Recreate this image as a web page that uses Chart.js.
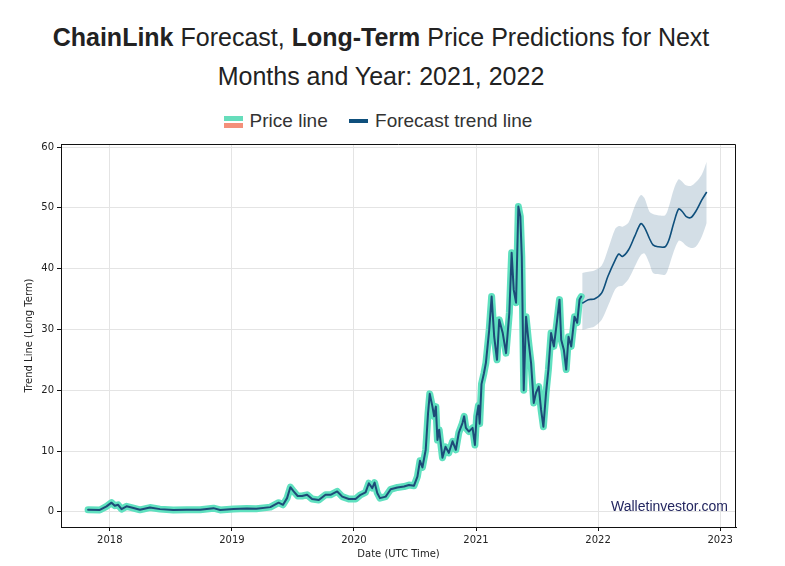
<!DOCTYPE html>
<html>
<head>
<meta charset="UTF-8">
<title>ChainLink Forecast</title>
<script src="https://cdn.jsdelivr.net/npm/chart.js"></script>
<style>
	body { margin: 0; background: #fff; font-family: "Liberation Sans", Arial, sans-serif; }
	#wrap { position: relative; width: 785px; height: 566px; overflow: hidden; }
	#title { position: absolute; left: 0; top: 18px; width: 762px; margin: 0; text-align: center;
		font-size: 25px; font-weight: normal; line-height: 39px; color: #222; }
	#title b { font-weight: bold; }
	#legend { position: absolute; left: 0; top: 110px; width: 756px; text-align: center;
		font-size: 19px; color: #333; white-space: nowrap; }
	.item { display: inline-block; margin: 0 8px; }
	.sw1 { display: inline-block; width: 19px; height: 12px; vertical-align: -1px; margin-right: 7px;
		background: linear-gradient(#66ddbb 0 45%, #fff 45% 58%, #f4907a 58% 100%); }
	.sw2 { display: inline-block; width: 19px; height: 4px; vertical-align: 4px; margin-right: 7px; background: #0e4f7c; }
	#box { position: absolute; left: 0; top: 130px; width: 785px; height: 436px; }
	#mark { position: absolute; left: 611px; top: 498px; font-size: 14px; color: #232660; }
</style>
</head>
<body>
<div id="wrap">
	<h1 id="title"><b>ChainLink</b> Forecast, <b>Long-Term</b> Price Predictions for Next<br>Months and Year: 2021, 2022</h1>
	<div id="legend">
		<span class="item"><span class="sw1"></span>Price line</span>
		<span class="item"><span class="sw2"></span>Forecast trend line</span>
	</div>
	<div id="box"><canvas id="myChart"></canvas></div>
	<div id="mark">Walletinvestor.com</div>
</div>
<script>
// price history (decimal year, USD)
var priceYears = [2017.822, 2017.918, 2017.973, 2018.014, 2018.041, 2018.068, 2018.096, 2018.137, 2018.178, 2018.247,
	2018.329, 2018.411, 2018.52, 2018.63, 2018.74, 2018.849, 2018.904, 2019.013, 2019.123, 2019.2,
	2019.315, 2019.383, 2019.419, 2019.452, 2019.479, 2019.506, 2019.539, 2019.575, 2019.616, 2019.657,
	2019.712, 2019.767, 2019.808, 2019.863, 2019.904, 2019.958, 2020.013, 2020.054, 2020.095, 2020.122,
	2020.15, 2020.169, 2020.191, 2020.213, 2020.26, 2020.301, 2020.356, 2020.41, 2020.451, 2020.492,
	2020.52, 2020.541, 2020.561, 2020.588, 2020.607, 2020.621, 2020.643, 2020.657, 2020.671, 2020.684,
	2020.698, 2020.725, 2020.75, 2020.777, 2020.808, 2020.835, 2020.859, 2020.889, 2020.903, 2020.917,
	2020.942, 2020.972, 2020.991, 2021.005, 2021.02, 2021.03, 2021.045, 2021.065, 2021.081, 2021.108,
	2021.128, 2021.149, 2021.172, 2021.19, 2021.219, 2021.246, 2021.273, 2021.292, 2021.309, 2021.328,
	2021.347, 2021.363, 2021.375, 2021.391, 2021.41, 2021.429, 2021.451, 2021.473, 2021.492, 2021.514,
	2021.533, 2021.552, 2021.574, 2021.593, 2021.615, 2021.638, 2021.662, 2021.684, 2021.698, 2021.72,
	2021.739, 2021.758, 2021.78, 2021.807, 2021.829, 2021.848, 2021.862];
var priceValues = [0.33, 0.3, 0.9, 1.5, 1.0, 1.15, 0.44, 0.9, 0.7, 0.33,
	0.7, 0.44, 0.3, 0.35, 0.35, 0.6, 0.3, 0.45, 0.55, 0.5,
	0.77, 1.5, 1.15, 2.25, 4.05, 3.35, 2.6, 2.6, 2.8, 2.1,
	1.95, 2.8, 2.8, 3.35, 2.5, 2.1, 2.1, 2.8, 3.2, 4.7,
	3.9, 4.8, 3.1, 2.25, 2.5, 3.7, 4.0, 4.15, 4.4, 4.3,
	5.8, 8.4, 7.3, 10.2, 16.2, 19.4, 17.3, 15.7, 17.3, 11.8,
	13.5, 8.9, 10.7, 9.7, 11.6, 10.2, 13, 14.6, 15.7, 13.8,
	13.2, 13.8, 11, 15.7, 17.5, 14.5, 21, 22.8, 24.5, 29.9,
	35.4, 28.8, 25, 31.6, 29.4, 26.1, 32.7, 42.6, 36.5, 34.4,
	50.2, 48.6, 42, 20, 32.1, 28.3, 24.5, 17.9, 19.6, 20.6,
	16.8, 14, 19.6, 23.4, 29.4, 27.2, 31.1, 34.9, 28.3, 26.6,
	23.4, 28.8, 27.2, 32.1, 31.1, 34.9, 35.4];

// forecast trend and its band
var forecastYears = [2021.87, 2021.92, 2021.97, 2022.03, 2022.08, 2022.14, 2022.17, 2022.2, 2022.25, 2022.3,
	2022.35, 2022.38, 2022.42, 2022.45, 2022.49, 2022.55, 2022.58, 2022.62, 2022.66, 2022.69,
	2022.72, 2022.76, 2022.8, 2022.85, 2022.89];
var trendValues = [34.3, 34.9, 35, 36, 38.7, 41.4, 42.4, 42, 43.1, 45.3,
	47.4, 46.8, 45, 43.9, 43.6, 43.6, 44.7, 47.5, 49.8, 49.4,
	48.6, 48.4, 49.4, 51.3, 52.6];
var upperValues = [39.3, 39.5, 39.7, 40.5, 43.1, 46.5, 47, 46.9, 47.6, 50.2,
	52.1, 51.6, 49.4, 49, 48.8, 48.8, 50.2, 53, 54.7, 54.3,
	53.7, 53.6, 54.2, 55.5, 57.6];
var lowerValues = [29.9, 30.2, 30.5, 31.6, 33.8, 36.6, 37.1, 37.2, 38.3, 40.3,
	42.2, 42.5, 40.9, 39.3, 39.1, 39, 40.3, 42.8, 44.6, 44.4,
	43.8, 43.4, 43.6, 45.3, 47.5];

var xTicks = [2018, 2019, 2020, 2021, 2022, 2023];
var yTicks = [0, 10, 20, 30, 40, 50, 60];

function pts(xs, ys) {
	return xs.map(function (x, i) { return { x: x, y: ys[i] }; });
}

// top and right edges of the frame (left/bottom are the axis borders)
var frame = {
	id: 'frame',
	afterDraw: function (c) {
		var a = c.chartArea, ctx = c.ctx;
		var l = Math.round(a.left), t = Math.round(a.top) + 0.5, r = Math.round(a.right) - 0.5, b = Math.round(a.bottom);
		ctx.save();
		ctx.strokeStyle = '#111';
		ctx.lineWidth = 1;
		ctx.beginPath();
		ctx.moveTo(l, t);
		ctx.lineTo(r, t);
		ctx.lineTo(r, b);
		ctx.stroke();
		ctx.restore();
	}
};

var tickFont = { family: 'DejaVu Sans', size: 10 };

var chart = new Chart(document.getElementById('myChart'), {
	type: 'line',
	data: {
		datasets: [
			{ data: pts(forecastYears, upperValues), borderColor: 'rgba(0,0,0,0)', borderWidth: 0,
				backgroundColor: 'rgba(120,155,180,0.33)', fill: '+1', tension: 0.3, order: 3 },
			{ data: pts(forecastYears, lowerValues), borderColor: 'rgba(0,0,0,0)', borderWidth: 0,
				fill: false, tension: 0.3, order: 3 },
			{ data: pts(priceYears, priceValues), borderColor: '#5fe0bf', borderWidth: 7,
				borderJoinStyle: 'round', borderCapStyle: 'round', tension: 0, order: 2 },
			{ data: pts(priceYears, priceValues), borderColor: '#1d4b78', borderWidth: 2,
				borderJoinStyle: 'round', borderCapStyle: 'round', tension: 0, order: 1 },
			{ data: pts(forecastYears, trendValues), borderColor: '#0e4f7c', borderWidth: 1.6,
				tension: 0.3, order: 0 }
		]
	},
	options: {
		responsive: true,
		maintainAspectRatio: false,
		animation: false,
		elements: { point: { radius: 0 } },
		layout: { padding: { top: 14, right: 49, left: 0, bottom: 0 } },
		plugins: { legend: { display: false }, tooltip: { enabled: false } },
		scales: {
			x: {
				type: 'linear', min: 2017.6, max: 2023.13,
				afterBuildTicks: function (s) { s.ticks = xTicks.map(function (v) { return { value: v }; }); },
				afterFit: function (s) { s.height = 39; },
				ticks: { color: '#222', font: tickFont, padding: 3, maxRotation: 0,
					callback: function (v) { return String(v); } },
				grid: { color: '#e4e4e4', tickColor: '#111', tickLength: 4 },
				border: { color: '#111' },
				title: { display: true, text: 'Date (UTC Time)', color: '#222', font: tickFont,
					padding: { top: 0, bottom: 6 } }
			},
			y: {
				min: -2.5, max: 60.5,
				afterBuildTicks: function (s) { s.ticks = yTicks.map(function (v) { return { value: v }; }); },
				afterFit: function (s) { s.width = 61; },
				ticks: { color: '#222', font: tickFont, padding: 3 },
				grid: { color: '#e4e4e4', tickColor: '#111', tickLength: 4 },
				border: { color: '#111' },
				title: { display: true, text: 'Trend Line (Long Term)', color: '#222', font: tickFont,
					padding: { top: 23, bottom: 0 } }
			}
		}
	},
	plugins: [frame]
});
</script>
</body>
</html>
